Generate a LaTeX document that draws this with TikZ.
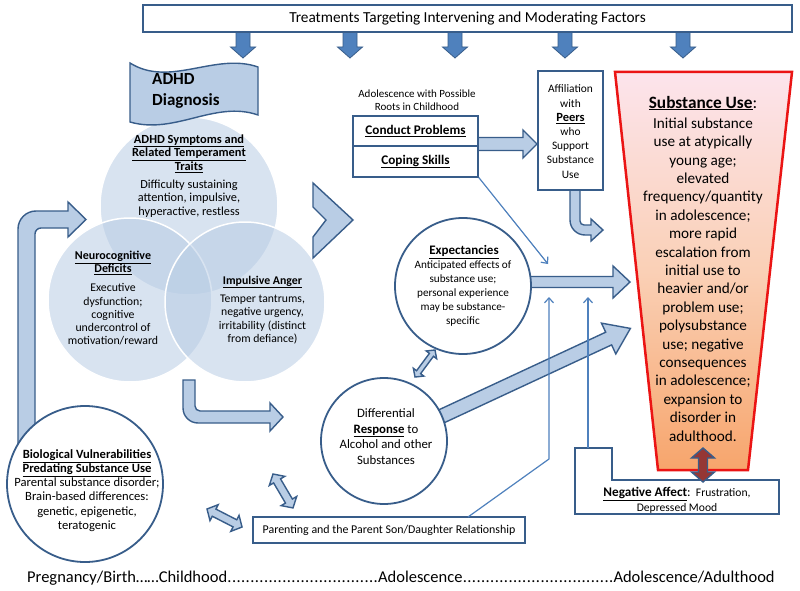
\documentclass[tikz,border=0pt]{standalone}
\usepackage{fontspec}
\setmainfont{Carlito}
\usetikzlibrary{arrows.meta}
\definecolor{db}{RGB}{56,93,138}
\definecolor{mb}{RGB}{79,129,189}
\definecolor{lf}{RGB}{185,205,229}
\definecolor{dred}{RGB}{149,55,53}
\definecolor{sred}{RGB}{235,20,20}
\definecolor{pk}{RGB}{252,228,236}
\definecolor{pc}{RGB}{250,208,182}
\definecolor{og}{RGB}{247,165,108}
\newcommand\myfs[2]{\fontsize{#1}{#2}\selectfont}
\newcommand\myhd[1]{\underline{\textbf{#1}}}
\newcommand\mydots{\xleaders\hbox to 0.27em{\hss.\hss}\hfill}
% single block arrow: [style]{start}{angle}{length}{shaft half}{head half}{head length}
\newcommand\blkarr[7][blk]{\begin{scope}[shift={(#2)},rotate=#3]
\draw[#1] (0,-#5) -- ({#4-#7},-#5) -- ({#4-#7},-#6) -- (#4,0) -- ({#4-#7},#6) -- ({#4-#7},#5) -- (0,#5) -- cycle;\end{scope}}
% double block arrow
\newcommand\dblarr[7][blk]{\begin{scope}[shift={(#2)},rotate=#3]
\draw[#1] (#7,-#5) -- ({#4-#7},-#5) -- ({#4-#7},-#6) -- (#4,0) -- ({#4-#7},#6) -- ({#4-#7},#5) -- (#7,#5) -- (#7,#6) -- (0,0) -- (#7,-#6) -- cycle;\end{scope}}
\begin{document}
\begin{tikzpicture}[x=1pt,y=-1pt,
  box/.style={draw=db,line width=1.6pt,fill=white},
  blk/.style={draw=db,line width=1.4pt,fill=lf,line join=miter},
  dn/.style={draw=db,line width=0.8pt,fill=mb},
  redarr/.style={draw=db,line width=1.4pt,fill=dred},
  circ/.style={circle,draw=db,line width=1.8pt,fill=white,inner sep=0pt},
  venn/.style={circle,fill=lf,fill opacity=0.55,draw=white,line width=1.5pt,inner sep=0pt},
  thinarr/.style={draw=mb,line width=1.2pt,-{Straight Barb[length=5pt,width=9pt]}},
  lbl/.style={align=center,inner sep=0pt}]
\useasboundingbox (0,0) rectangle (800,591);
\fill[white] (0,0) rectangle (800,591);

% Venn
\node[venn,minimum size=178] (vtop) at (189,206) {};
\node[venn,minimum size=164] (vleft) at (130,300) {};
\node[venn,minimum size=160] (vright) at (245,302) {};

% chevron
\draw[blk] (313,183) -- (353,220) -- (313,258) -- (313,237) -- (326,220) -- (313,207) -- cycle;

% big L arrow
\draw[blk] (18,462) -- (18,229) arc[start angle=180,end angle=270,radius=18] -- (68,211) -- (68,202) -- (86,219.5) -- (68,237) -- (68,228) -- (41,228) arc[start angle=270,end angle=180,radius=6] -- (35,462) -- cycle;

% Venn -> differential bent arrow
\draw[blk] (183,380) -- (183,408) arc[start angle=180,end angle=90,radius=15] -- (270,423) -- (270,431) -- (283,417) -- (270,403) -- (270,411) -- (200,411) arc[start angle=90,end angle=180,radius=5] -- (195,380) -- cycle;

% peers bent arrow
\draw[blk] (570,190) -- (570,220) arc[start angle=180,end angle=90,radius=15] -- (591,235) -- (591,241) -- (603,230) -- (591,219) -- (591,225) -- (584,225) arc[start angle=90,end angle=180,radius=4] -- (580,190) -- cycle;

% down arrows
\foreach \x in {243,350,455,565,683} {\blkarr[dn]{\x,32}{-90}{26}{7}{12.5}{11}}

% block arrows
\blkarr{478,144}{0}{59}{6.5}{14}{14}
\blkarr{526,282}{0}{104}{5.5}{16}{17}
\blkarr{440,417}{24.95}{210}{7}{17}{24}

% circles
\node[circ,minimum size=136] (exp) at (463,286) {};
\node[circ,minimum size=126] (dif) at (384,441) {};
\node[circ,minimum size=156] (bio) at (85,484) {};

% thin arrows
\coordinate (t1) at (548,264);
\coordinate (p1) at (468,517);
\coordinate (p2) at (549,459);
\coordinate (p3) at (549,297);
\coordinate (n1) at (588,448);
\coordinate (n2) at (588,297);

% boxes
\node[box,minimum width=649,minimum height=27,inner sep=0pt] (treat) at (467.5,18.5) {\myfs{15.3}{17}Treatments Targeting Intervening and Moderating Factors};
\node[box,minimum width=125,minimum height=30.5,inner sep=0pt] (con) at (415.5,131) {\myfs{13.2}{15}\myhd{Conduct Problems}};
\node[box,minimum width=125,minimum height=30.5,inner sep=0pt] (cop) at (415.5,161.5) {\myfs{13.2}{15}\myhd{Coping Skills}};
\node[box,minimum width=65,minimum height=119,inner sep=0pt] (peer) at (570.5,130.5) {};
\node[box,minimum width=272,minimum height=26,inner sep=0pt] (par) at (389,530) {\myfs{11.9}{13}Parenting and the Parent Son/Daughter Relationship};
\draw[box] (575,448) -- (612,448) -- (612,480) -- (779,480) -- (779,514) -- (575,514) -- cycle;

\draw[thinarr] (cop.south east) -- (t1);
\draw[thinarr] (p1) -- (p2) -- (p3);
\draw[thinarr] (n1) -- (n2);

% substance use trapezoid
\path[top color=pk,bottom color=og,middle color=pc] (615,72) -- (792,72) -- (748,470) -- (658,470) -- cycle;
\draw[draw=sred,line width=2.5pt,line join=miter] (615,72) -- (792,72) -- (748,470) -- (658,470) -- cycle;

% banner
\draw[blk] (130,63) .. controls (170,88) and (215,52) .. (258,67) -- (258,115) .. controls (215,100) and (175,135) .. (130,122) -- cycle;
\node[anchor=west,align=left,inner sep=0pt,font=\bfseries\myfs{17}{21}] (adhd) at (152,91) {ADHD\\Diagnosis};

% double arrows
\dblarr{435,350}{-126.5}{33.6}{2.5}{6.5}{6}
\dblarr{273,474}{-59.5}{39.4}{4}{9}{8}
\dblarr{207,509}{-27.2}{39.4}{4}{9}{8}
\dblarr[redarr]{703,448}{-90}{34}{4.5}{11.5}{10}

% texts
\node[lbl,font=\myfs{12.4}{13.5}] (th) at (189,153.5) {\myhd{ADHD Symptoms and}\\\myhd{Related Temperament}\\\myhd{Traits}};
\node[lbl,font=\myfs{12.3}{13.5}] (tb) at (189,198.5) {Difficulty sustaining\\attention, impulsive,\\hyperactive, restless};
\node[lbl,font=\myfs{12}{13.5}] (lh) at (113,263) {\myhd{Neurocognitive}\\\myhd{Deficits}};
\node[lbl,font=\myfs{11.8}{13.3}] (lb) at (113,314.5) {Executive\\dysfunction;\\cognitive\\undercontrol of\\motivation/reward};
\node[lbl,font=\myfs{11.8}{13.5}] (rh) at (262.5,282) {\myhd{Impulsive Anger}};
\node[lbl,font=\myfs{11.7}{13.5}] (rb) at (262.5,319.5) {Temper tantrums,\\negative urgency,\\irritability (distinct\\from defiance)};
\node[lbl,font=\myfs{11}{12.7}] (adol) at (417,100.5) {Adolescence with Possible\\Roots in Childhood};
\node[lbl,font=\myfs{11.4}{14.2}] (pt) at (570.5,131.5) {Affiliation\\with\\{\myfs{12.5}{14.2}\myhd{Peers}}\\who\\Support\\Substance\\Use};
\node[lbl,font=\myfs{17.3}{19}] (suh) at (703,103) {\myhd{Substance Use}:};
\node[lbl,font=\myfs{15.2}{18.4}] (sub) at (703,279.5) {Initial substance\\use at atypically\\young age;\\elevated\\frequency/quantity\\in adolescence;\\more rapid\\escalation from\\initial use to\\heavier and/or\\problem use;\\polysubstance\\use; negative\\consequences\\in adolescence;\\expansion to\\disorder in\\adulthood.};
\node[lbl,font=\myfs{13}{14}] (eh) at (464,252) {\myhd{Expectancies}};
\node[lbl,font=\myfs{11.2}{14}] (eb) at (463,294) {Anticipated effects of\\substance use;\\personal experience\\may be substance-\\specific};
\node[lbl,font=\myfs{12.8}{15.7}] (dt) at (386,436.5) {Differential\\\myhd{Response} to\\Alcohol and other\\Substances};
\node[lbl,font=\myfs{12.6}{14.2}] (bt) at (87,490.5) {\myhd{Biological Vulnerabilities}\\\myhd{Predating Substance Use}\\Parental substance disorder;\\Brain-based differences:\\genetic, epigenetic,\\teratogenic};
\node[lbl,font=\myfs{11.6}{15}] (nt) at (677,500) {{\myfs{13.2}{15}\myhd{Negative Affect}:}~~Frustration,\\Depressed Mood};
\node[anchor=west,inner sep=0pt,font=\myfs{16.5}{18}] (tl) at (27,578) {\hbox to 748pt{Pregnancy/Birth……Childhood\mydots Adolescence\mydots Adolescence/Adulthood}};
\end{tikzpicture}
\end{document}
